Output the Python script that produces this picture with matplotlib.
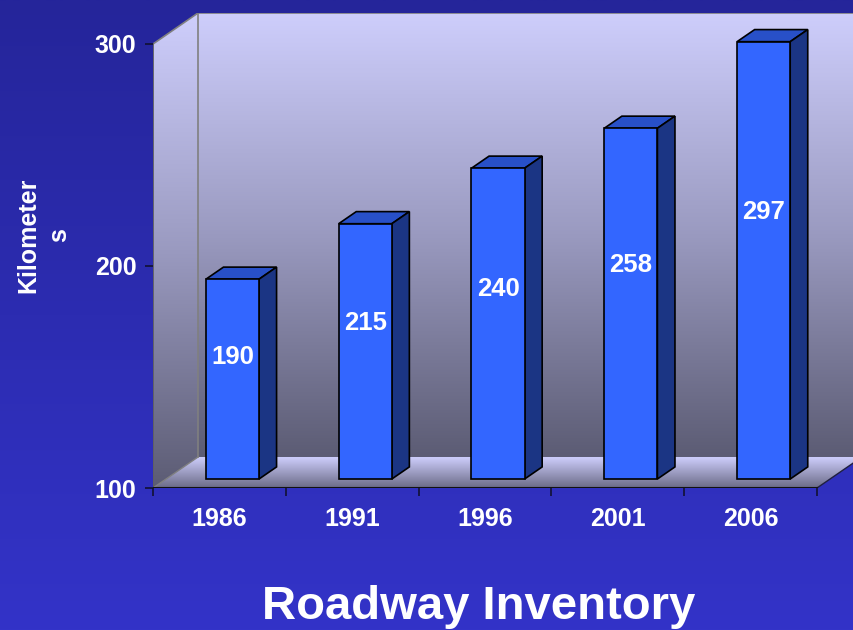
import matplotlib
matplotlib.use('Agg')
import matplotlib.pyplot as plt
import numpy as np
from matplotlib.colors import LinearSegmentedColormap
from matplotlib.patches import Polygon

plt.rcParams['font.family'] = ['Liberation Sans', 'DejaVu Sans']

# datos del grafico
anios = ['1986', '1991', '1996', '2001', '2006']
kilometros = [190, 215, 240, 258, 297]
y_ticks = [100, 200, 300]
titulo = 'Roadway Inventory'
etiqueta_y = 'Kilometer\ns'

# profundidad del efecto 3D (en unidades de datos)
DX = 0.339
DY = 13.96
Y0 = 100
Y1 = 300
N = len(anios)
ancho = 0.4
f0, f1 = 0.29, 0.68   # fraccion de profundidad de las barras

fig = plt.figure(figsize=(8.54, 6.3), dpi=100)

# fondo azul con degradado
fondo = fig.add_axes([0, 0, 1, 1], zorder=-10)
cmap_fondo = LinearSegmentedColormap.from_list('fondo', ['#3333c8', '#25259a'])
fondo.imshow(np.linspace(0, 1, 256).reshape(-1, 1), cmap=cmap_fondo, aspect='auto',
             origin='lower', extent=[0, 1, 0, 1])
fondo.set_axis_off()

ax = fig.add_axes([153 / 854, 1 - 488 / 630, (862 - 153) / 854, (488 - 13) / 630])
ax.patch.set_visible(False)

cmap_pared = LinearSegmentedColormap.from_list('pared', ['#5c5c74', '#9a9ac0', '#cecefc'])
cmap_suelo = LinearSegmentedColormap.from_list('suelo', ['#6a6a86', '#cecefc'])
grad = np.linspace(0, 1, 256).reshape(-1, 1)

# pared del fondo
pared = Polygon([(DX, Y0 + DY), (N + DX + 1, Y0 + DY), (N + DX + 1, Y1 + DY), (DX, Y1 + DY)],
                closed=True, facecolor='none', edgecolor='none')
ax.add_patch(pared)
im = ax.imshow(grad, cmap=cmap_pared, aspect='auto', origin='lower',
               extent=[DX, N + DX + 1, Y0 + DY, Y1 + DY], zorder=0)
im.set_clip_path(pared)

# pared lateral
lateral = Polygon([(0, Y0), (DX, Y0 + DY), (DX, Y1 + DY), (0, Y1)],
                  closed=True, facecolor='none', edgecolor='none')
ax.add_patch(lateral)
im2 = ax.imshow(grad, cmap=cmap_pared, aspect='auto', origin='lower',
                extent=[0, DX, Y0, Y1 + DY], zorder=0)
im2.set_clip_path(lateral)

# suelo
suelo = Polygon([(0, Y0), (N, Y0), (N + DX, Y0 + DY), (DX, Y0 + DY)],
                closed=True, facecolor='none', edgecolor='none')
ax.add_patch(suelo)
im3 = ax.imshow(grad, cmap=cmap_suelo, aspect='auto', origin='lower',
                extent=[0, N + DX, Y0, Y0 + DY], zorder=0)
im3.set_clip_path(suelo)

# bordes grises
gris = '#808080'
ax.plot([DX, DX], [Y0 + DY, Y1 + DY], color=gris, lw=1.2, zorder=1)
ax.plot([DX, N + DX + 1], [Y1 + DY, Y1 + DY], color=gris, lw=1.2, zorder=1)
ax.plot([0, DX], [Y1, Y1 + DY], color=gris, lw=1.2, zorder=1)
ax.plot([0, DX], [Y0, Y0 + DY], color=gris, lw=1, zorder=1)
ax.plot([N, N + DX], [Y0, Y0 + DY], color='#202040', lw=1, zorder=1)
ax.plot([0, 0], [Y0, Y1], color='#606060', lw=1.3, zorder=1)
ax.plot([0, N], [Y0, Y0], color='#111111', lw=1.5, zorder=1)

# barras
xs = np.arange(N) + 0.5
base = Y0 + f0 * DY
ax.bar(xs + f0 * DX, np.array(kilometros) - Y0, width=ancho, bottom=base,
       color='#3366ff', edgecolor='black', linewidth=1.2, zorder=3)
prof_x = (f1 - f0) * DX
prof_y = (f1 - f0) * DY
for x, v in zip(xs, kilometros):
    izq = x + f0 * DX - ancho / 2
    der = izq + ancho
    top = v + f0 * DY
    ax.add_patch(Polygon([(izq, top), (der, top), (der + prof_x, top + prof_y), (izq + prof_x, top + prof_y)],
                         closed=True, facecolor='#2850c8', edgecolor='black', lw=1.2, zorder=2))
    ax.add_patch(Polygon([(der, base), (der + prof_x, base + prof_y), (der + prof_x, top + prof_y), (der, top)],
                         closed=True, facecolor='#1b3584', edgecolor='black', lw=1.2, zorder=2))
    ax.text(x + f0 * DX, base + 0.61 * (v - Y0), str(v), ha='center', va='center',
            color='white', fontsize=18.5, fontweight='bold', zorder=5)

ax.set_xlim(0, N + DX)
ax.set_ylim(Y0, Y1 + DY)
for s in ax.spines.values():
    s.set_visible(False)

ax.set_yticks(y_ticks)
ax.set_yticklabels([str(t) for t in y_ticks])
ax.set_xticks(np.arange(N + 1))
ax.set_xticklabels([])
ax.set_xticks(xs, minor=True)
ax.set_xticklabels(anios, minor=True)
ax.tick_params(axis='both', which='major', direction='out', length=6, width=1.2,
               color='#111133', labelcolor='white', labelsize=18, pad=6)
ax.tick_params(axis='x', which='minor', length=0, labelcolor='white', labelsize=18, pad=14)
for lab in ax.get_yticklabels() + ax.get_xticklabels(minor=True):
    lab.set_fontweight('bold')

fig.text(44 / 854, 1 - 235 / 630, etiqueta_y, rotation=90, ha='center', va='center',
         multialignment='center', color='white', fontsize=18, fontweight='bold', linespacing=1.35)
fig.text(478.5 / 854, 1 - 619 / 630, titulo, ha='center', va='baseline',
         color='white', fontsize=34, fontweight='bold')

fig.savefig('out.png', dpi=100)
